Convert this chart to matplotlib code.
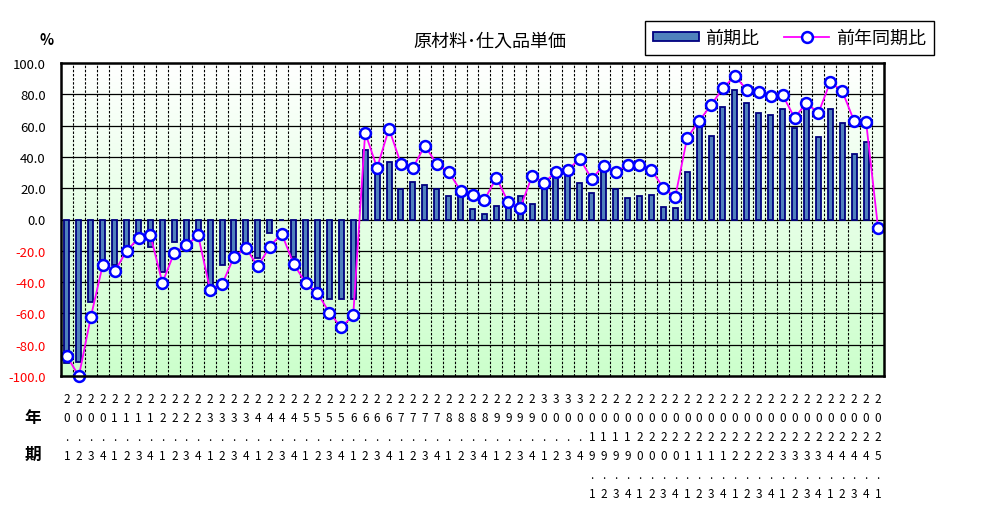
import numpy as np
import matplotlib
matplotlib.use("Agg")
from matplotlib import pyplot as plt
from matplotlib.colors import LinearSegmentedColormap
from matplotlib.lines import Line2D
from matplotlib.patches import Patch

plt.rcParams['font.family'] = ['Noto Sans CJK JP', 'DejaVu Sans']

# 期ラベル（平成20年1期 ～ 平成30年4期, 2019年1期 ～ 2025年1期）
labels = [f"{y}.{q}" for y in range(20, 31) for q in range(1, 5)]
labels += [f"{y}.{q}" for y in range(2019, 2025) for q in range(1, 5)]
labels += ["2025.1"]

# 前期比
qoq = [-92, -91, -53, -26, -29, -18, -10, -17.5, -33.5, -14.5,
       -15, -8, -44, -29, -22, -15.5, -24.5, -8.5, 0, -24,
       -38, -46, -51, -51, -51, 44.7, 32, 36.5, 19.6, 23.8,
       22.3, 19.6, 15.3, 15.5, 6.4, 3.2, 8.9, 8, 15.3, 9.6,
       22, 28, 29, 23.2, 16.8, 32, 19.6, 13.6, 15.3, 15.9,
       8.3, 7.4, 30.6, 60, 53.6, 72, 82.9, 74.4, 68, 67,
       70.4, 58.2, 70.6, 52.5, 70.8, 61.4, 42.1, 49.7, np.nan]

# 前年同期比
yoy = [-87.5, -100, -62.3, -29, -33.2, -20, -12, -10.2, -40.4, -21.2,
       -16.6, -10.2, -44.8, -41.4, -24, -18.1, -30, -17.3, -9, -28.3,
       -40.4, -47, -59.5, -69, -61.2, 55.5, 33, 58, 35.6, 33,
       47.1, 35.6, 30.5, 18.4, 15.6, 12.6, 26.6, 11, 7.3, 27.9,
       23.5, 30.5, 31.9, 38.7, 26, 34.5, 30.1, 35.1, 35.1, 31.7,
       20.2, 14.5, 52.3, 62.9, 73.1, 84, 91.6, 82.9, 81.2, 79.1,
       79.5, 65, 74.4, 68, 88, 82, 62.9, 62.3, -5.3]

yticks = np.arange(-100, 101, 20)

W, H = 999, 506
fig = plt.figure(figsize=(W / 100, H / 100), dpi=100)
ax = fig.add_axes([61 / W, 1 - 377 / H, (884 - 61) / W, (377 - 64) / H])

n = len(labels)
x = np.arange(n)
ax.set_xlim(-0.5, n - 0.5)
ax.set_ylim(-100, 100)

# 背景グラデーション
cmap = LinearSegmentedColormap.from_list('bg', ['#ffffff', '#ccffcc'])
ax.imshow(np.linspace(0, 1, 256).reshape(-1, 1), extent=[-0.5, n - 0.5, -100, 100],
          aspect='auto', cmap=cmap, origin='upper', zorder=0)

ax.hlines(yticks[1:-1], -0.5, n - 0.5, colors='black', linewidth=0.9, zorder=1)
ax.vlines(x[:-1] + 0.5, -100, 100, colors='black', linewidth=0.8,
          linestyles=(0, (2.2, 1.5)), zorder=1)

ax.bar(x, qoq, width=0.42, color='#4f81bd', edgecolor='#000080', linewidth=1.3, zorder=2)
ax.plot(x, yoy, color='#ff00ff', linewidth=1.3, marker='o', markersize=7.8,
        markerfacecolor='white', markeredgecolor='#0000ff', markeredgewidth=1.8,
        zorder=3, clip_on=False)

for s in ax.spines.values():
    s.set_linewidth(1.8)
    s.set_zorder(4)

ax.set_yticks(yticks)
ax.set_yticklabels([f"{v:.1f}" for v in yticks], fontsize=9.5)
for t, v in zip(ax.get_yticklabels(), yticks):
    t.set_color('red' if v < 0 else 'black')
ax.tick_params(axis='y', length=0, pad=11)
ax.set_xticks([])

# 縦書きの期ラベル
for i, lab in enumerate(labels):
    xf = (61 + (i + 0.5) * (823 / n)) / W
    for r, ch in enumerate(lab):
        fig.text(xf, 1 - (403 + 19 * r) / H, ch, ha='center', va='baseline',
                 fontsize=8.5)

fig.text(33 / W, 1 - 418 / H, '年', ha='center', va='center', fontsize=12, weight='bold')
fig.text(33 / W, 1 - 455 / H, '期', ha='center', va='center', fontsize=12, weight='bold')
fig.text(47 / W, 1 - 40 / H, '%', ha='center', va='center', fontsize=10.5, weight='bold')
fig.text(490 / W, 1 - 42 / H, '原材料･仕入品単価', ha='center', va='center', fontsize=13)

handles = [Patch(facecolor='#4f81bd', edgecolor='#000080', linewidth=1.3),
           Line2D([], [], color='#ff00ff', linewidth=1.3, marker='o', markersize=7.8,
                  markerfacecolor='white', markeredgecolor='#0000ff', markeredgewidth=1.8)]
leg = fig.legend(handles, ['前期比', '前年同期比'], ncol=2, loc='center',
                 bbox_to_anchor=(789.5 / W, 1 - 39 / H), fontsize=13, frameon=True,
                 fancybox=False, edgecolor='black', framealpha=1, borderpad=0.45,
                 handlelength=2.5, handleheight=0.45, handletextpad=0.35,
                 columnspacing=1.4, borderaxespad=0)
leg.get_frame().set_linewidth(1.0)

fig.savefig('out.png', dpi=100)
